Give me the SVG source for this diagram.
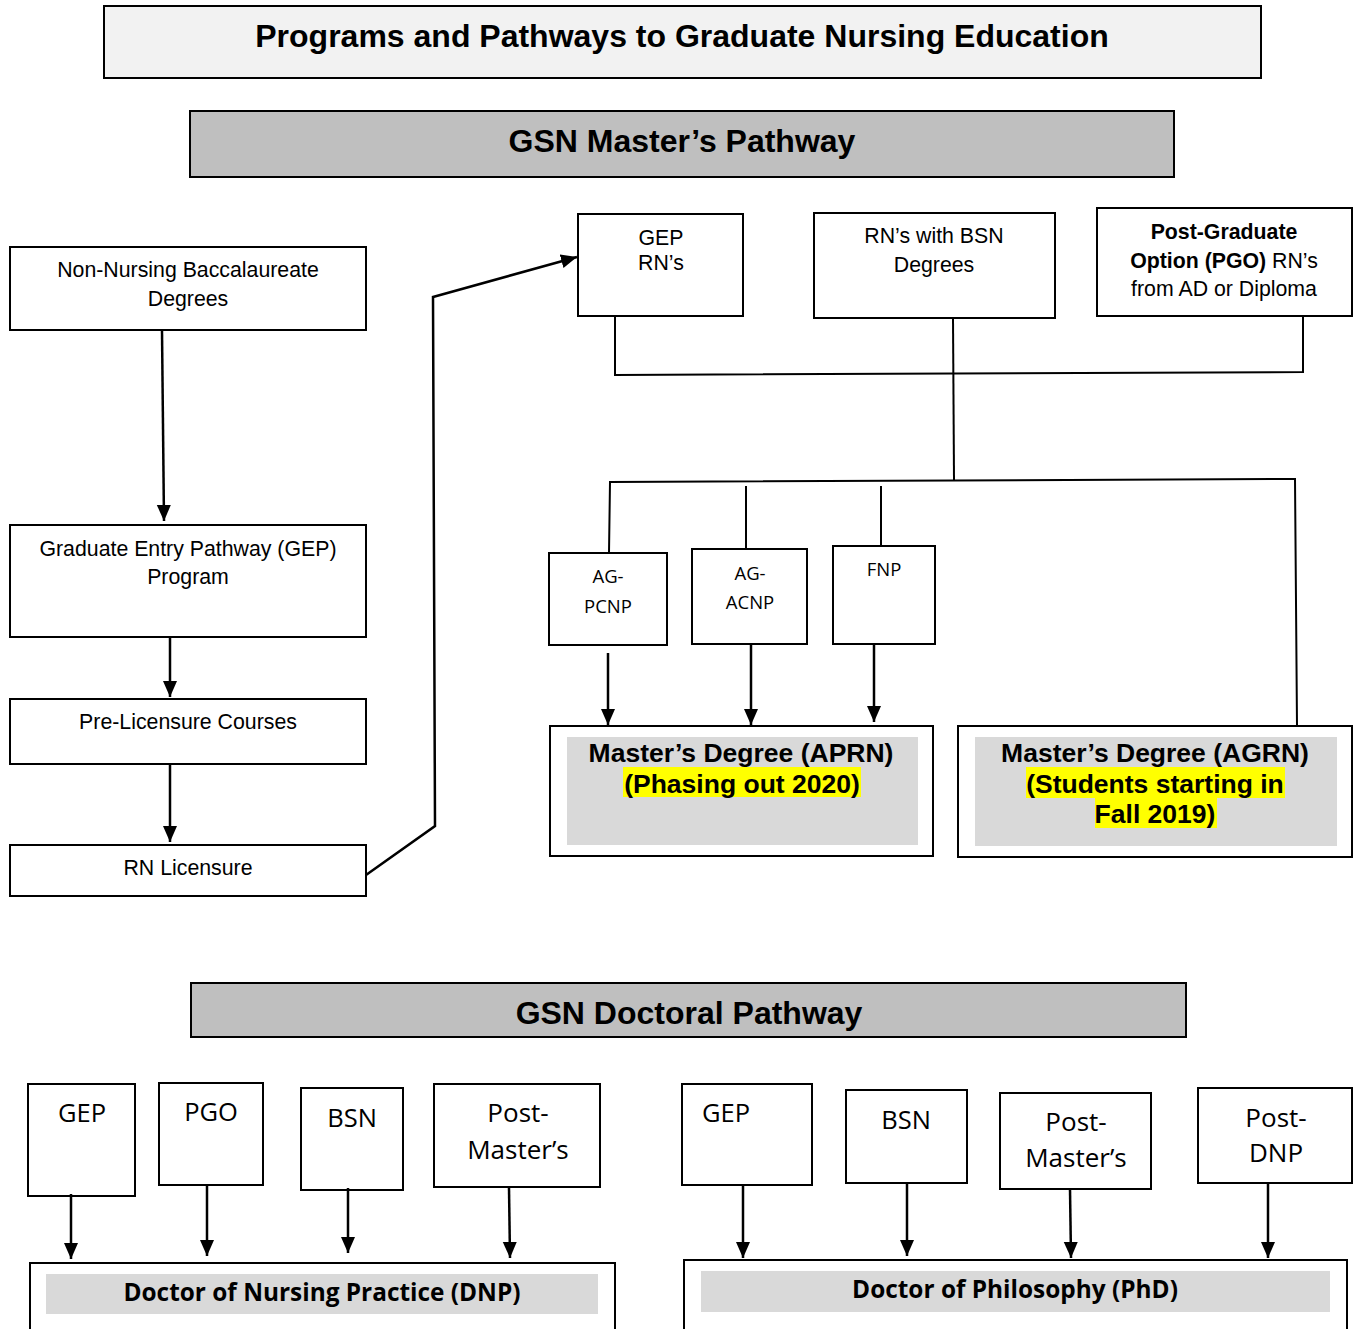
<svg xmlns="http://www.w3.org/2000/svg" width="1355" height="1329" viewBox="0 0 1355 1329">
<style>
.box{fill:#fff;stroke:#000;stroke-width:2}
.hdr{fill:#bfbfbf;stroke:#000;stroke-width:2}
.inner{fill:#d9d9d9;stroke:none}
.hl{fill:#ffff00;stroke:none}
.t{font-family:"Liberation Sans",Arial,sans-serif;font-size:21.3px;text-anchor:middle;fill:#000}
.tb{font-family:"Liberation Sans",Arial,sans-serif;font-weight:bold;text-anchor:middle;fill:#000}
.c{font-family:"Open Sans","Noto Sans",sans-serif;text-anchor:middle;fill:#000}
.cb{font-family:"Open Sans","Noto Sans",sans-serif;font-weight:bold;text-anchor:middle;fill:#000}
.ln{fill:none;stroke:#000;stroke-width:2}
.ar{fill:none;stroke:#000;stroke-width:2.5;marker-end:url(#ah)}
</style>
<defs>
<marker id="ah" markerUnits="userSpaceOnUse" markerWidth="16" markerHeight="16" viewBox="0 0 16 16" refX="16" refY="8" orient="auto">
<path d="M0,1 L16,8 L0,15 Z" fill="#000"/>
</marker>
</defs>
<rect width="1355" height="1329" fill="#fff"/>

<g id="title">
<rect x="104" y="6" width="1157" height="72" fill="#f2f2f2" stroke="#000" stroke-width="2"/>
<text class="tb" x="682" y="47" font-size="32">Programs and Pathways to Graduate Nursing Education</text>
</g>
<g id="masters-header">
<rect class="hdr" x="190" y="111" width="984" height="66"/>
<text class="tb" x="682" y="152" font-size="32">GSN Master’s Pathway</text>
</g>

<g id="non-nursing">
<rect class="box" x="10" y="247" width="356" height="83"/>
<text class="t" x="188" y="277">Non-Nursing Baccalaureate</text>
<text class="t" x="188" y="306">Degrees</text>
</g>
<g id="gep-program">
<rect class="box" x="10" y="525" width="356" height="112"/>
<text class="t" x="188" y="556">Graduate Entry Pathway (GEP)</text>
<text class="t" x="188" y="584">Program</text>
</g>
<g id="pre-licensure">
<rect class="box" x="10" y="699" width="356" height="65"/>
<text class="t" x="188" y="729">Pre-Licensure Courses</text>
</g>
<g id="rn-licensure">
<rect class="box" x="10" y="845" width="356" height="51"/>
<text class="t" x="188" y="875">RN Licensure</text>
</g>

<g id="gep-rns">
<rect class="box" x="578" y="214" width="165" height="102"/>
<text class="t" x="661" y="245">GEP</text>
<text class="t" x="661" y="270">RN’s</text>
</g>
<g id="rns-bsn">
<rect class="box" x="814" y="213" width="241" height="105"/>
<text class="t" x="934" y="243">RN’s with BSN</text>
<text class="t" x="934" y="272">Degrees</text>
</g>
<g id="pgo">
<rect class="box" x="1097" y="208" width="255" height="108"/>
<text class="t" x="1224" y="239" font-weight="bold">Post-Graduate</text>
<text class="t" x="1224" y="268"><tspan font-weight="bold">Option (PGO)</tspan> RN’s</text>
<text class="t" x="1224" y="296">from AD or Diploma</text>
</g>

<g id="ag-pcnp">
<rect class="box" x="549" y="553" width="118" height="92"/>
<text class="c" x="608" y="583" font-size="18.5">AG-</text>
<text class="c" x="608" y="613" font-size="18.5">PCNP</text>
</g>
<g id="ag-acnp">
<rect class="box" x="692" y="549" width="115" height="95"/>
<text class="c" x="750" y="580" font-size="18.5">AG-</text>
<text class="c" x="750" y="609" font-size="18.5">ACNP</text>
</g>
<g id="fnp">
<rect class="box" x="833" y="546" width="102" height="98"/>
<text class="c" x="884" y="576" font-size="18.5">FNP</text>
</g>

<g id="aprn">
<rect class="box" x="550" y="726" width="383" height="130"/>
<rect class="inner" x="567" y="737" width="351" height="108"/>
<rect class="hl" x="623" y="767" width="238" height="30"/>
<text class="tb" x="741" y="762" font-size="26.5">Master’s Degree (APRN)</text>
<text class="tb" x="742" y="793" font-size="26.5">(Phasing out 2020)</text>
</g>
<g id="agrn">
<rect class="box" x="958" y="726" width="394" height="131"/>
<rect class="inner" x="975" y="737" width="362" height="109"/>
<rect class="hl" x="1026" y="767" width="259" height="31"/>
<rect class="hl" x="1095" y="798" width="122" height="30"/>
<text class="tb" x="1155" y="762" font-size="26.5">Master’s Degree (AGRN)</text>
<text class="tb" x="1155" y="793" font-size="26.5">(Students starting in</text>
<text class="tb" x="1155" y="823" font-size="26.5">Fall 2019)</text>
</g>

<g id="doctoral-header">
<rect class="hdr" x="191" y="983" width="995" height="54"/>
<text class="tb" x="689" y="1024" font-size="32">GSN Doctoral Pathway</text>
</g>

<g id="dnp-gep">
<rect class="box" x="28" y="1084" width="107" height="112"/>
<text class="c" x="82" y="1122" font-size="25.5">GEP</text>
</g>
<g id="dnp-pgo">
<rect class="box" x="159" y="1083" width="104" height="102"/>
<text class="c" x="211" y="1121" font-size="25.5">PGO</text>
</g>
<g id="dnp-bsn">
<rect class="box" x="301" y="1088" width="102" height="102"/>
<text class="c" x="352" y="1127" font-size="25.5">BSN</text>
</g>
<g id="dnp-postmasters">
<rect class="box" x="434" y="1084" width="166" height="103"/>
<text class="c" x="518" y="1122" font-size="26">Post-</text>
<text class="c" x="518" y="1159" font-size="26">Master’s</text>
</g>
<g id="dnp">
<rect class="box" x="30" y="1263" width="585" height="80"/>
<rect class="inner" x="46" y="1274" width="552" height="40"/>
<text class="cb" x="322" y="1301" font-size="24.4">Doctor of Nursing Practice (DNP)</text>
</g>

<g id="phd-gep">
<rect class="box" x="682" y="1084" width="130" height="101"/>
<text class="c" x="726" y="1122" font-size="25.5">GEP</text>
</g>
<g id="phd-bsn">
<rect class="box" x="846" y="1090" width="121" height="93"/>
<text class="c" x="906" y="1129" font-size="25.5">BSN</text>
</g>
<g id="phd-postmasters">
<rect class="box" x="1000" y="1093" width="151" height="96"/>
<text class="c" x="1076" y="1131" font-size="26">Post-</text>
<text class="c" x="1076" y="1167" font-size="26">Master’s</text>
</g>
<g id="phd-postdnp">
<rect class="box" x="1198" y="1088" width="154" height="95"/>
<text class="c" x="1276" y="1127" font-size="26">Post-</text>
<text class="c" x="1276" y="1162" font-size="26">DNP</text>
</g>
<g id="phd">
<rect class="box" x="684" y="1260" width="663" height="80"/>
<rect class="inner" x="701" y="1271" width="629" height="41"/>
<text class="cb" x="1015" y="1298" font-size="24.4">Doctor of Philosophy (PhD)</text>
</g>

<g id="connectors">
<path class="ar" d="M162,331 L164,521"/>
<path class="ar" d="M170,638 L170,697"/>
<path class="ar" d="M170,765 L170,842"/>
<path class="ar" d="M366,875 L435,826 L433,297 L577,257"/>
<path class="ln" d="M615,316 L615,375 L1303,372 L1303,316"/>
<path class="ln" d="M953,318 L954,480"/>
<path class="ln" d="M609,553 L610,482 L1295,479 L1297,726"/>
<path class="ln" d="M746,486 L746,549"/>
<path class="ln" d="M881,486 L881,546"/>
<path class="ar" d="M608,653 L608,725"/>
<path class="ar" d="M751,645 L751,725"/>
<path class="ar" d="M874,645 L874,722"/>
<path class="ar" d="M71,1194 L71,1259"/>
<path class="ar" d="M207,1185 L207,1256"/>
<path class="ar" d="M348,1188 L348,1253"/>
<path class="ar" d="M509,1188 L510,1258"/>
<path class="ar" d="M743,1185 L743,1258"/>
<path class="ar" d="M907,1183 L907,1256"/>
<path class="ar" d="M1070,1189 L1071,1258"/>
<path class="ar" d="M1268,1183 L1268,1258"/>
</g>
</svg>
